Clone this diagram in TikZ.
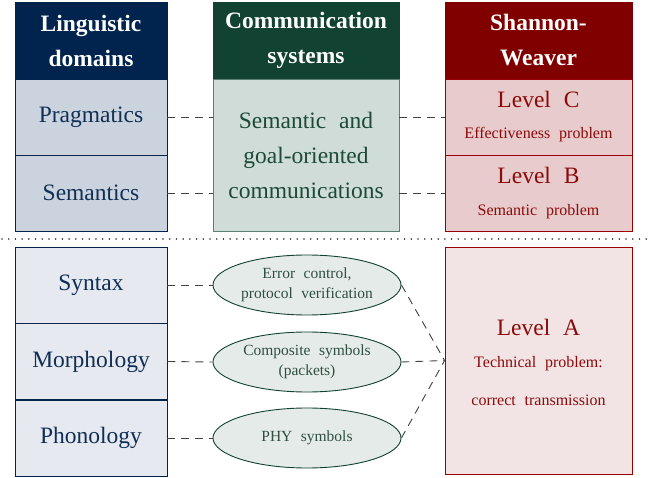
\documentclass[tikz,border=0pt]{standalone}
\usepackage{fontspec}
\setmainfont[WordSpace=2.2]{Liberation Serif}
\usetikzlibrary{shapes.geometric}
\definecolor{navy}{RGB}{0,36,77}
\definecolor{navytxt}{RGB}{17,46,85}
\definecolor{lfillA}{RGB}{203,212,222}
\definecolor{lfillB}{RGB}{230,233,239}
\definecolor{dgreen}{RGB}{18,66,50}
\definecolor{gfill}{RGB}{208,220,216}
\definecolor{gborder}{RGB}{90,128,114}
\definecolor{gtxt}{RGB}{28,74,56}
\definecolor{efill}{RGB}{229,235,232}
\definecolor{etxt}{RGB}{47,79,67}
\definecolor{maroon}{RGB}{128,0,0}
\definecolor{rfill}{RGB}{232,203,204}
\definecolor{rfillA}{RGB}{242,228,229}
\definecolor{rtxt}{RGB}{139,10,10}
\newcommand{\bigf}{\fontsize{23.5}{35}\selectfont}
\newcommand{\smallf}{\fontsize{16}{20}\selectfont}
\newcommand{\ellf}{\fontsize{15.5}{20}\selectfont}
\tikzset{
  headbox/.style={rectangle, minimum width=#1, minimum height=77, inner sep=0, align=center,
    font=\bigf\bfseries, text=white},
  lhead/.style={headbox=152, fill=navy, draw=navy},
  ghead/.style={headbox=186, fill=dgreen, draw=dgreen},
  rhead/.style={headbox=187, fill=maroon, draw=maroon},
  lbox/.style={rectangle, minimum width=152, minimum height=76, inner sep=0, draw=navy,
    line width=0.9pt, font=\bigf, text=navytxt},
  gbox/.style={rectangle, minimum width=186, minimum height=152, inner sep=0, draw=gborder,
    fill=gfill, line width=0.9pt, align=center, font=\bigf, text=gtxt},
  rbox/.style={rectangle, minimum width=187, minimum height=76, inner sep=0, draw=maroon!80!red,
    fill=rfill, line width=0.9pt},
  ell/.style={ellipse, minimum width=188, minimum height=60, inner sep=0, draw=dgreen,
    fill=efill, line width=0.9pt, align=center, font=\ellf, text=etxt},
  bigt/.style={font=\bigf, text=rtxt, inner sep=0},
  smallt/.style={font=\smallf, text=rtxt, inner sep=0},
  conn/.style={draw=black!75, dash pattern=on 8pt off 6pt, line width=0.9pt},
}
\begin{document}
\begin{tikzpicture}[x=1pt,y=-1pt]
\useasboundingbox (0,0) rectangle (651,478);
% headers
\node[lhead] (lh) at (91,40.5) {Linguistic\\domains};
\node[ghead] (gh) at (306,40.5) {Communication\\systems};
\node[rhead] (rh) at (538.5,40.5) {Shannon-\\Weaver};
% left column
\node[lbox, fill=lfillA] (prag) at (91,117) {Pragmatics};
\node[lbox, fill=lfillA] (sem) at (91,193) {Semantics};
\node[lbox, fill=lfillB] (syn) at (91,285) {Syntax};
\node[lbox, fill=lfillB] (mor) at (91,361.5) {Morphology};
\node[lbox, fill=lfillB] (pho) at (91,438) {Phonology};
% middle
\node[gbox] (mid) at (306,155) {Semantic and\\goal-oriented\\communications};
\node[ell] (e1) at (307,285) {Error control,\\protocol verification};
\node[ell] (e2) at (307,362) {Composite symbols\\(packets)};
\node[ell] (e3) at (307,438) {PHY symbols};
% right
\node[rbox] (lc) at (538.5,117) {};
\node[rbox] (lb) at (538.5,193) {};
\node[rbox, fill=rfillA, minimum height=227] (la) at (538.5,360.5) {};
\node[bigt] (lcT) at (538.5,99) {Level C};
\node[smallt] (lcS) at (538.5,135) {Effectiveness problem};
\node[bigt] (lbT) at (538.5,175) {Level B};
\node[smallt] (lbS) at (538.5,212) {Semantic problem};
\node[bigt] (laT) at (538.5,327) {Level A};
\node[smallt] (laS1) at (538.5,364) {Technical problem:};
\node[smallt] (laS2) at (538.5,400) {correct transmission};
% separator
\coordinate (sepL) at (2,239);
\coordinate (sepR) at (651,239);
\draw[black!80, line width=1.6pt, dash pattern=on 0.01pt off 6.7pt, line cap=round] (sepL) -- (sepR);
% connectors
\draw[conn] (prag.east) -- (mid.west |- prag.east);
\draw[conn] (sem.east) -- (mid.west |- sem.east);
\draw[conn] (mid.east |- lc.west) -- (lc.west);
\draw[conn] (mid.east |- lb.west) -- (lb.west);
\draw[conn] (syn.east) -- (e1.west);
\draw[conn] (mor.east) -- (e2.west);
\draw[conn] (pho.east) -- (e3.west);
\draw[conn] (e1.east) -- (la.west);
\draw[conn] (e2.east) -- (la.west);
\draw[conn] (e3.east) -- (la.west);
\end{tikzpicture}
\end{document}
